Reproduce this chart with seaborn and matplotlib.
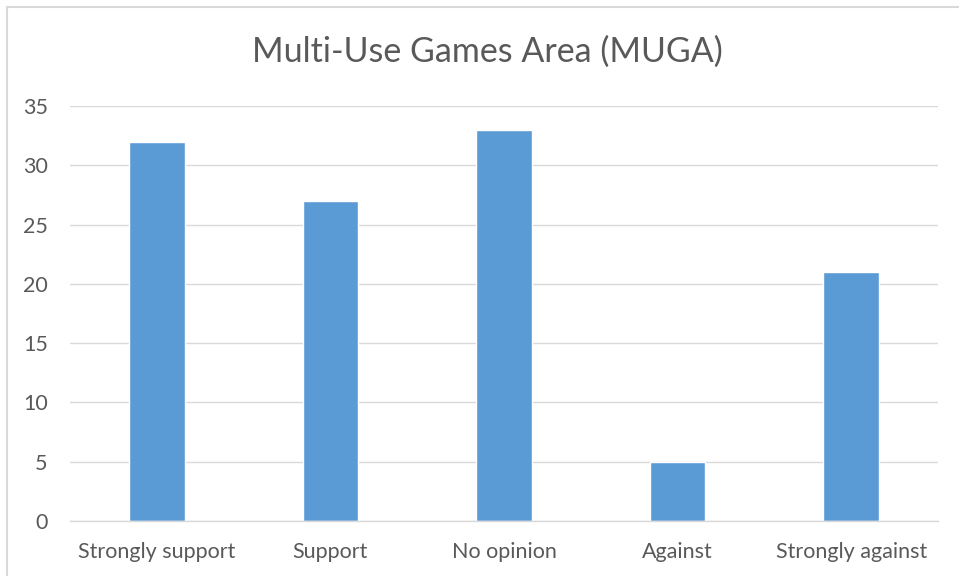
import matplotlib
matplotlib.use("Agg")
import matplotlib.pyplot as plt
import seaborn as sns
import pandas as pd
from matplotlib.patches import Rectangle

categories = ["Strongly support", "Support", "No opinion", "Against", "Strongly against"]
values = [32, 27, 33, 5, 21]
yticks = [0, 5, 10, 15, 20, 25, 30, 35]

sns.set_theme(style="white")
plt.rcParams['font.family'] = ['Lato', 'DejaVu Sans']

df = pd.DataFrame({"cat": categories, "val": values})

fig = plt.figure(figsize=(9.59, 5.76), dpi=100)
ax = fig.add_axes([70/959, 55/576, 868/959, 415/576])

sns.barplot(data=df, x="cat", y="val", color="#5B9BD5", width=0.32, ax=ax, saturation=1)

ax.set_ylim(0, 35)
ax.set_xlim(-0.5, 4.5)
ax.set_yticks(yticks)
ax.yaxis.grid(True, color="#D9D9D9", linewidth=1)
ax.set_axisbelow(True)
for s in ["top", "right", "left"]:
    ax.spines[s].set_visible(False)
ax.spines["bottom"].set_color("#D9D9D9")
ax.spines["bottom"].set_linewidth(1)
ax.tick_params(axis="both", length=0, colors="#595959", labelsize=15.5)
ax.tick_params(axis="y", pad=16)
ax.tick_params(axis="x", pad=15)
ax.set_xlabel("")
ax.set_ylabel("")

fig.text(487/959, 1 - 52/576, "Multi-Use Games Area (MUGA)", ha="center", va="center",
         fontsize=24.5, color="#595959")

fig.patches.append(Rectangle((7/959, -0.1), 1.2, 1 - 7/576 + 0.1, transform=fig.transFigure,
                             fill=False, edgecolor="#D9D9D9", linewidth=1.5))

fig.savefig("out.png", dpi=100)
